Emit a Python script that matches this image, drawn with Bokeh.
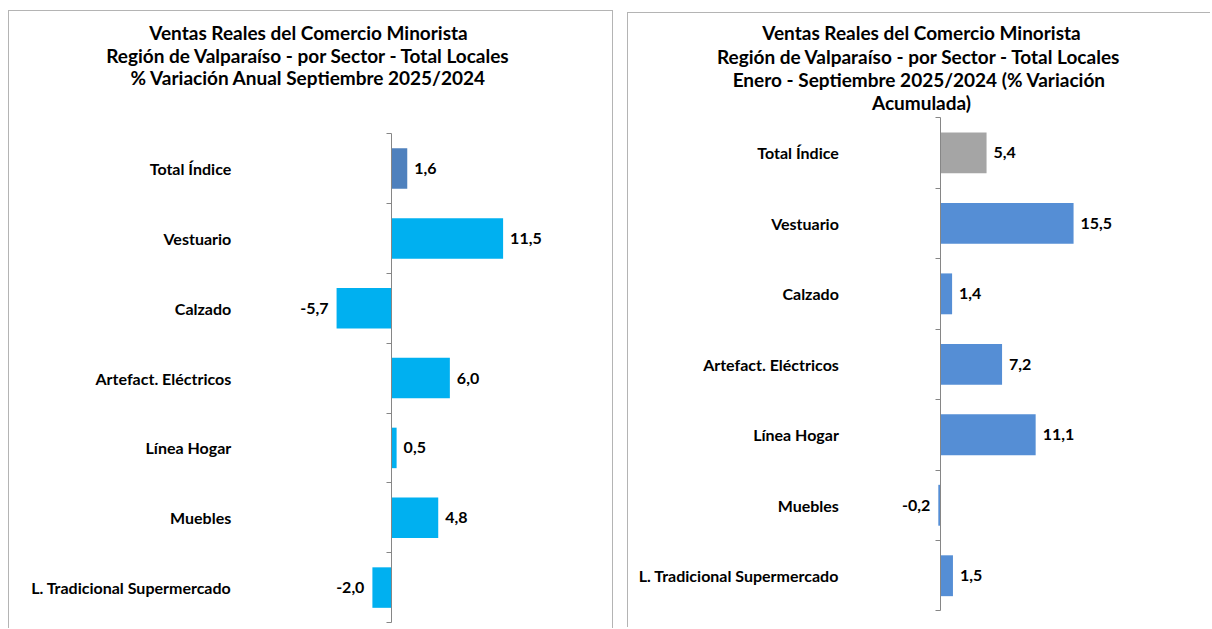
from bokeh.plotting import figure
from bokeh.models import Range1d, LinearAxis, FixedTicker, Label, ColumnDataSource
from bokeh.layouts import row
from bokeh.embed import file_html
from bokeh.resources import INLINE
from bokeh.core.properties import value

categories = ["Total Índice", "Vestuario", "Calzado", "Artefact. Eléctricos",
              "Línea Hogar", "Muebles", "L. Tradicional Supermercado"]
anual = [1.6, 11.5, -5.7, 6.0, 0.5, 4.8, -2.0]
acumulada = [5.4, 15.5, 1.4, 7.2, 11.1, -0.2, 1.5]
anual_colors = ["#4F81BD"] + ["#00B0F0"] * 6
acum_colors = ["#A5A5A5"] + ["#558ED5"] * 6
title_left = ["Ventas Reales del Comercio Minorista",
              "Región de Valparaíso - por Sector - Total Locales",
              "% Variación Anual Septiembre 2025/2024"]
title_right = ["Ventas Reales del Comercio Minorista",
               "Región de Valparaíso - por Sector  - Total Locales",
               "Enero - Septiembre  2025/2024 (% Variación",
               "Acumulada)"]

FONT = "Lato"
BORDER = "1px solid #B4B4B4"


def fmt(v):
    return f"{v:.1f}".replace(".", ",")


def make_panel(values, colors, lines, width, height, xr, yr, label_x, title_x, title_ys,
               styles, margin):
    n = len(categories)
    centers = [i + 0.5 for i in range(n)]
    p = figure(width=width, height=height, output_backend="svg", toolbar_location=None,
               x_range=Range1d(*xr), y_range=Range1d(*yr),
               x_axis_location=None, y_axis_location=None,
               min_border=0, outline_line_color=None, background_fill_color="white",
               border_fill_color="white", styles=styles, margin=margin)
    p.grid.visible = False

    for t, ty in zip(lines, title_ys):
        p.add_layout(Label(x=title_x, y=ty, x_units="screen", y_units="screen", text=t,
                           text_align="center", text_baseline="middle", text_font=FONT,
                           text_font_style="bold", text_font_size="19px",
                           text_color="#000000"))

    src = ColumnDataSource(dict(y=centers, v=values, c=colors))
    p.hbar(y="y", left=0, right="v", height=0.58, fill_color="c", line_color=None, source=src)

    pos = ColumnDataSource(dict(x=[v for v in values if v >= 0],
                                y=[c for c, v in zip(centers, values) if v >= 0],
                                t=[fmt(v) for v in values if v >= 0]))
    neg = ColumnDataSource(dict(x=[v for v in values if v < 0],
                                y=[c for c, v in zip(centers, values) if v < 0],
                                t=[fmt(v) for v in values if v < 0]))
    common = dict(text="t", text_baseline="middle", text_font=value(FONT),
                  text_font_style="bold", text_font_size="16px", text_color="#000000")
    p.text(x="x", y="y", source=pos, text_align="left", x_offset=7, **common)
    p.text(x="x", y="y", source=neg, text_align="right", x_offset=-8, **common)

    # category labels axis (fixed inside the frame, labels to its left)
    lab = LinearAxis(fixed_location=label_x, ticker=FixedTicker(ticks=centers),
                     major_label_overrides={c: cat for c, cat in zip(centers, categories)},
                     axis_line_color=None, major_tick_line_color=None,
                     major_tick_out=0, major_tick_in=0,
                     minor_tick_line_color=None, major_label_standoff=8,
                     major_label_text_font=FONT, major_label_text_font_style="bold",
                     major_label_text_font_size="16px", major_label_text_color="#000000")
    p.add_layout(lab, "left")

    # zero axis with category boundary ticks
    zero = LinearAxis(fixed_location=0, bounds=(0, n),
                      ticker=FixedTicker(ticks=list(range(n + 1))),
                      major_label_text_color=None, major_tick_out=5, major_tick_in=0,
                      minor_tick_line_color=None, axis_line_color="#868686",
                      major_tick_line_color="#868686")
    p.add_layout(zero, "left")
    return p


# left panel: canvas x 11..614, y 12..629; zero at x=392 (9.65 px/unit); rows 134..622
LS, LZ = 9.65, 392
LX0, LX1, LT, LB = 11, 614, 12, 629
LY0, LY7 = 134, 622
lpy = (LY7 - LY0) / 7
left = make_panel(anual, anual_colors, title_left, 605, 618,
                  ((LX0 - LZ) / LS, (LX1 - LZ) / LS),
                  (7 + (LB - LY7) / lpy, -(LY0 - LT) / lpy),
                  (240 - LZ) / LS,
                  310 - LX0, [LB - 34 + 2, LB - 56.5 + 2, LB - 79 + 2],
                  {"border-left": BORDER, "border-top": BORDER, "border-right": BORDER},
                  (10, 0, 0, 8))

# right panel: canvas x 629..1211, y 14..628; zero at x=940 (8.6 px/unit); rows 118..611
RS, RZ = 8.6, 940
RX0, RX1, RT, RB = 629, 1211, 14, 628
RY0, RY7 = 118, 610.5
rpy = (RY7 - RY0) / 7
right = make_panel(acumulada, acum_colors, title_right, 583, 615,
                   ((RX0 - RZ) / RS, (RX1 - RZ) / RS),
                   (7 + (RB - RY7) / rpy, -(RY0 - RT) / rpy),
                   (847 - RZ) / RS,
                   922 - RX0, [RB - 34 + 2, RB - 58 + 2, RB - 81 + 2, RB - 104 + 2],
                   {"border-left": BORDER, "border-top": BORDER},
                   (12, 0, 0, 0))

layout = row(left, right, spacing=14)
open("out.html", "w").write(file_html(layout, INLINE))
